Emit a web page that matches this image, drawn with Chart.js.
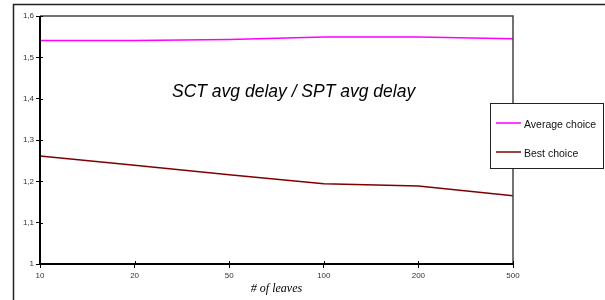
<!DOCTYPE html>
<html>
<head>
<meta charset="utf-8">
<script src="https://cdn.jsdelivr.net/npm/chart.js@4.4.1/dist/chart.umd.min.js"></script>
<style>
  html, body { margin: 0; padding: 0; background: #fff; overflow: hidden; }
  #wrap { width: 605px; height: 300px; position: relative; }
</style>
</head>
<body>
<div id="wrap"><canvas id="grafico"></canvas></div>
<script>
// Datos
const hojas = ["10", "20", "50", "100", "200", "500"];
const promedio = [1.541, 1.541, 1.543, 1.549, 1.549, 1.545];   // Average choice
const mejor = [1.261, 1.239, 1.216, 1.194, 1.189, 1.165];      // Best choice
const yTicks = ["1", "1,1", "1,2", "1,3", "1,4", "1,5", "1,6"];
const tituloTexto = "SCT avg delay / SPT avg delay";
const ejeX = "# of leaves";

// Marco exterior, borde del área, título interno y leyenda con caja
const decoracion = {
  id: "decoracion",
  afterDraw(chart) {
    const { ctx, chartArea: a } = chart;
    ctx.save();

    // marco exterior (sólo arriba e izquierda visibles)
    ctx.strokeStyle = "#222";
    ctx.lineWidth = 1.5;
    ctx.beginPath();
    ctx.moveTo(13.5, 310);
    ctx.lineTo(13.5, 4.5);
    ctx.lineTo(620, 4.5);
    ctx.stroke();

    // borde del área de trazado
    ctx.strokeStyle = "#444";
    ctx.lineWidth = 1.5;
    ctx.beginPath();
    ctx.moveTo(a.left, a.top);
    ctx.lineTo(a.right, a.top);
    ctx.lineTo(a.right, a.bottom);
    ctx.stroke();

    // ejes izquierdo e inferior
    ctx.strokeStyle = "#000";
    ctx.lineWidth = 2;
    ctx.beginPath();
    ctx.moveTo(a.left, a.top);
    ctx.lineTo(a.left, a.bottom);
    ctx.lineTo(a.right, a.bottom);
    ctx.stroke();

    // marcas hacia dentro
    ctx.lineWidth = 1;
    const ys = chart.scales.y, xs = chart.scales.x;
    ys.ticks.forEach((t, i) => {
      const y = Math.round(ys.getPixelForTick(i)) + 0.5;
      ctx.beginPath(); ctx.moveTo(a.left, y); ctx.lineTo(a.left + 3, y); ctx.stroke();
    });
    xs.ticks.forEach((t, i) => {
      const x = Math.round(xs.getPixelForTick(i)) + 0.5;
      ctx.beginPath(); ctx.moveTo(x, a.bottom); ctx.lineTo(x, a.bottom - 3); ctx.stroke();
    });

    // título dentro del gráfico
    ctx.fillStyle = "#000";
    ctx.font = "italic 17.5px Arial, 'Liberation Sans', sans-serif";
    ctx.textAlign = "left";
    ctx.textBaseline = "alphabetic";
    ctx.fillText(tituloTexto, 172, 97);

    // caja de leyenda
    const bx = 490.5, by = 103.5, bw = 113, bh = 65;
    ctx.fillStyle = "#fff";
    ctx.fillRect(bx, by, bw, bh);
    ctx.strokeStyle = "#222";
    ctx.lineWidth = 1;
    ctx.strokeRect(bx, by, bw, bh);

    ctx.font = "10.5px Arial, 'Liberation Sans', sans-serif";
    ctx.textBaseline = "middle";
    const filas = [123, 152];
    chart.data.datasets.forEach((ds, i) => {
      const y = filas[i];
      ctx.strokeStyle = ds.borderColor;
      ctx.lineWidth = 1.5;
      ctx.beginPath(); ctx.moveTo(496, y); ctx.lineTo(521, y); ctx.stroke();
      ctx.fillStyle = "#111";
      ctx.fillText(ds.label, 524, y + 2);
    });

    ctx.restore();
  }
};

const grafico = new Chart(document.getElementById("grafico"), {
  type: "line",
  data: {
    labels: hojas,
    datasets: [
      {
        label: "Average choice",
        data: promedio,
        borderColor: "#ff00ff",
        borderWidth: 1.5,
        pointRadius: 0,
        tension: 0
      },
      {
        label: "Best choice",
        data: mejor,
        borderColor: "#800000",
        borderWidth: 1.5,
        pointRadius: 0,
        tension: 0
      }
    ]
  },
  options: {
    responsive: true,
    maintainAspectRatio: false,
    animation: false,
    layout: { padding: { left: 0, right: 92, top: 16, bottom: 0 } },
    plugins: {
      legend: { display: false },
      tooltip: { enabled: false }
    },
    scales: {
      x: {
        offset: false,
        grid: { drawOnChartArea: false, tickLength: 4, color: "#000" },
        border: { display: false },
        ticks: {
          color: "#333",
          padding: 3,
          maxRotation: 0,
          font: { family: "Arial, 'Liberation Sans', sans-serif", size: 8 }
        },
        title: {
          display: true,
          text: ejeX,
          color: "#000",
          padding: { top: 0, bottom: 4 },
          font: { family: "'Times New Roman', 'Liberation Serif', serif", size: 12, style: "italic" }
        },
        afterFit: (s) => { s.height = 36; }
      },
      y: {
        min: 1,
        max: 1.6,
        grid: { drawOnChartArea: false, tickLength: 4, color: "#000" },
        border: { display: false },
        ticks: {
          stepSize: 0.1,
          color: "#333",
          padding: 2,
          font: { family: "Arial, 'Liberation Sans', sans-serif", size: 8 },
          callback: (v, i) => yTicks[i]
        },
        afterFit: (s) => { s.width = 40; }
      }
    }
  },
  plugins: [decoracion]
});
</script>
</body>
</html>
